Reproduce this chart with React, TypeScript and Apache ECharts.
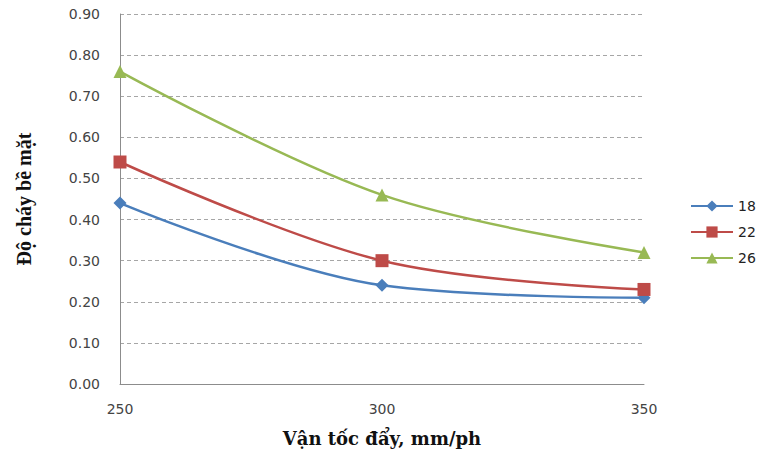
import React, { useEffect, useRef } from "react";
import * as echarts from "echarts";

const speeds = [250, 300, 350];
const series18 = [0.44, 0.24, 0.21];
const series22 = [0.54, 0.3, 0.23];
const series26 = [0.76, 0.46, 0.32];
const seriesNames = ["18", "22", "26"];
const colors = ["#4A7EBB", "#BE4B48", "#98B954"];
const symbols = ["diamond", "rect", "triangle"];
const symbolSizes = [13, 13, 13];

export default function App() {
  const ref = useRef<HTMLDivElement>(null);

  useEffect(() => {
    if (!ref.current) return;
    const chart = echarts.init(ref.current, undefined, { renderer: "svg" });
    const all = [series18, series22, series26];
    chart.setOption({
      animation: false,
      backgroundColor: "#ffffff",
      grid: { left: 120, right: 115, top: 14, bottom: 69 },
      legend: {
        orient: "vertical",
        left: 685,
        top: 194,
        itemGap: 12,
        itemWidth: 42,
        itemHeight: 14,
        textStyle: { fontFamily: "DejaVu Sans", fontSize: 14, color: "#222" },
        data: seriesNames,
      },
      xAxis: {
        type: "value",
        min: 250,
        max: 350,
        interval: 50,
        name: "Vận tốc đẩy, mm/ph",
        nameLocation: "middle",
        nameGap: 45,
        nameTextStyle: {
          fontFamily: "DejaVu Serif",
          fontWeight: "bold",
          fontSize: 18,
          color: "#111",
        },
        axisLine: { lineStyle: { color: "#8c8c8c", width: 1 } },
        axisTick: { show: false },
        splitLine: { show: false },
        axisLabel: {
          margin: 18,
          fontFamily: "DejaVu Sans",
          fontSize: 14,
          color: "#444",
        },
      },
      yAxis: {
        type: "value",
        min: 0,
        max: 0.9,
        interval: 0.1,
        name: "Độ cháy bề mặt",
        nameLocation: "middle",
        nameGap: 86,
        nameRotate: 90,
        nameTextStyle: {
          fontFamily: "Liberation Serif",
          fontWeight: "bold",
          fontSize: 20,
          color: "#111",
        },
        axisLine: { show: true, lineStyle: { color: "#8c8c8c", width: 1 } },
        axisTick: { show: false },
        splitLine: { lineStyle: { color: "#a6a6a6", type: [4, 3], width: 1 } },
        axisLabel: {
          margin: 20,
          fontFamily: "DejaVu Sans",
          fontSize: 14,
          color: "#444",
          formatter: (v: number) => v.toFixed(2),
        },
      },
      series: all.map((vals, i) => ({
        name: seriesNames[i],
        type: "line",
        smooth: 0.35,
        symbol: symbols[i],
        symbolSize: symbolSizes[i],
        showSymbol: true,
        lineStyle: { color: colors[i], width: 2.5 },
        itemStyle: { color: colors[i] },
        data: speeds.map((s, j) => [s, vals[j]]),
      })),
    });
    return () => chart.dispose();
  }, []);

  return <div ref={ref} style={{ width: 759, height: 453, position: "absolute", left: 0, top: 0 }} />;
}
